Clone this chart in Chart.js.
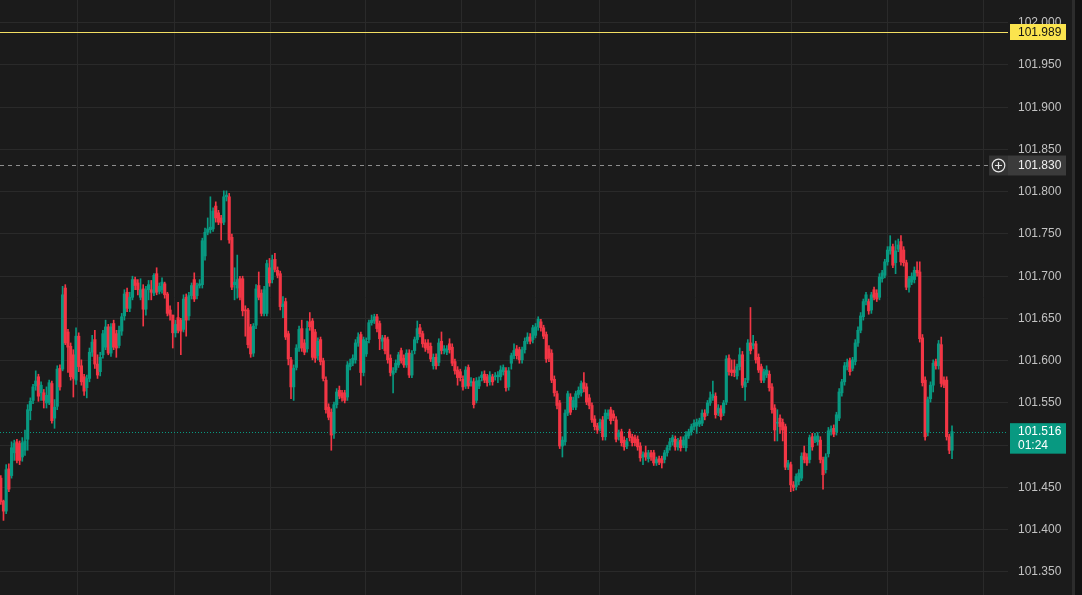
<!DOCTYPE html>
<html>
<head>
<meta charset="utf-8">
<title>5m candles</title>
<script src="https://cdn.jsdelivr.net/npm/chart.js@4.4.1/dist/chart.umd.min.js"></script>
<style>
  html, body { margin: 0; padding: 0; background: #1b1b1b; overflow: hidden; }
  #wrap { width: 1082px; height: 595px; }
</style>
</head>
<body>
<div id="wrap"><canvas id="chart" width="1082" height="595"></canvas></div>
<script>
// OHLC, one value per 5 minute candle
var opens = [
  101.461,101.434,101.422,101.472,101.464,101.491,101.504,101.502,101.486,101.494,
  101.507,101.541,101.553,101.570,101.581,101.562,101.562,101.550,101.550,101.573,
  101.532,101.546,101.591,101.590,101.686,101.634,101.617,101.607,101.577,101.629,
  101.594,101.581,101.568,101.579,101.610,101.625,101.596,101.587,101.607,101.616,
  101.640,101.609,101.644,101.632,101.618,101.635,101.653,101.681,101.662,101.675,
  101.696,101.692,101.675,101.685,101.661,101.684,101.684,101.680,101.703,101.682,
  101.684,101.691,101.679,101.660,101.654,101.633,101.651,101.648,101.637,101.675,
  101.653,101.677,101.696,101.677,101.689,101.690,101.724,101.752,101.755,101.756,
  101.783,101.775,101.769,101.764,101.794,101.794,101.746,101.690,101.686,101.697,
  101.697,101.660,101.660,101.640,101.609,101.642,101.689,101.680,101.656,101.656,
  101.710,101.696,101.720,101.707,101.703,101.664,101.670,101.632,101.601,101.569,
  101.592,101.615,101.638,101.621,101.614,101.646,101.647,101.634,101.606,101.625,
  101.600,101.577,101.545,101.539,101.514,101.548,101.565,101.562,101.562,101.557,
  101.593,101.597,101.601,101.621,101.631,101.586,101.608,101.625,101.645,101.647,
  101.652,101.644,101.623,101.627,101.625,101.603,101.584,101.589,101.595,101.612,
  101.603,101.595,101.609,101.583,101.612,101.625,101.639,101.632,101.621,101.621,
  101.617,101.594,101.604,101.598,101.623,101.612,101.610,101.620,101.616,101.599,
  101.589,101.587,101.578,101.570,101.592,101.574,101.575,101.553,101.570,101.580,
  101.584,101.581,101.575,101.581,101.581,101.581,101.581,101.587,101.588,101.569,
  101.597,101.606,101.614,101.613,101.601,101.613,101.623,101.628,101.625,101.630,
  101.640,101.646,101.639,101.631,101.614,101.609,101.578,101.561,101.550,101.499,
  101.504,101.538,101.557,101.545,101.545,101.560,101.562,101.574,101.569,101.556,
  101.547,101.531,101.523,101.520,101.530,101.510,101.535,101.542,101.537,101.530,
  101.510,101.516,101.506,101.499,101.516,101.510,101.509,101.507,101.499,101.486,
  101.491,101.484,101.491,101.491,101.479,101.484,101.484,101.483,101.491,101.498,
  101.504,101.507,101.498,101.506,101.500,101.497,101.511,101.516,101.522,101.523,
  101.525,101.526,101.538,101.538,101.550,101.556,101.558,101.538,101.543,101.538,
  101.551,101.603,101.589,101.589,101.582,101.593,101.607,101.569,101.577,101.621,
  101.618,101.620,101.604,101.593,101.577,101.583,101.584,101.569,101.544,101.526,
  101.532,101.527,101.522,101.474,101.477,101.453,101.451,101.457,101.461,101.491,
  101.486,101.483,101.510,101.506,101.504,101.506,101.483,101.471,101.490,101.516,
  101.520,101.516,101.532,101.562,101.575,101.593,101.600,101.591,101.599,101.621,
  101.636,101.652,101.670,101.670,101.660,101.684,101.680,101.675,101.697,101.701,
  101.717,101.730,101.735,101.716,101.732,101.741,101.731,101.716,101.687,101.693,
  101.696,101.707,101.705,101.627,101.577,101.515,101.555,101.571,101.599,101.594,
  101.619,101.577,101.577,101.510,101.494
];
var highs = [
  101.464,101.435,101.477,101.478,101.504,101.506,101.507,101.505,101.509,101.518,
  101.548,101.556,101.572,101.588,101.584,101.575,101.566,101.569,101.577,101.576,
  101.554,101.594,101.595,101.688,101.690,101.637,101.621,101.613,101.639,101.633,
  101.601,101.584,101.583,101.615,101.630,101.636,101.607,101.610,101.636,101.648,
  101.643,101.644,101.648,101.636,101.641,101.656,101.684,101.686,101.681,101.700,
  101.699,101.696,101.697,101.690,101.688,101.695,101.695,101.703,101.710,101.692,
  101.698,101.693,101.681,101.665,101.654,101.648,101.669,101.650,101.678,101.679,
  101.681,101.692,101.704,101.692,101.696,101.745,101.757,101.769,101.794,101.781,
  101.788,101.778,101.772,101.801,101.801,101.798,101.750,101.710,101.725,101.700,
  101.700,101.665,101.662,101.643,101.644,101.690,101.705,101.684,101.688,101.719,
  101.721,101.725,101.727,101.711,101.706,101.676,101.674,101.635,101.604,101.595,
  101.619,101.641,101.648,101.625,101.647,101.657,101.650,101.637,101.627,101.628,
  101.603,101.581,101.549,101.543,101.551,101.567,101.570,101.565,101.565,101.599,
  101.602,101.607,101.625,101.633,101.634,101.628,101.627,101.648,101.654,101.655,
  101.655,101.647,101.630,101.630,101.628,101.607,101.592,101.601,101.610,101.615,
  101.607,101.613,101.613,101.612,101.628,101.647,101.643,101.635,101.625,101.625,
  101.621,101.608,101.608,101.626,101.634,101.618,101.618,101.626,101.620,101.602,
  101.593,101.590,101.582,101.593,101.595,101.580,101.579,101.580,101.581,101.587,
  101.588,101.584,101.587,101.584,101.586,101.587,101.594,101.595,101.592,101.592,
  101.609,101.620,101.618,101.616,101.616,101.627,101.633,101.632,101.642,101.644,
  101.652,101.649,101.642,101.634,101.618,101.613,101.582,101.564,101.553,101.510,
  101.542,101.564,101.561,101.557,101.564,101.569,101.576,101.586,101.573,101.560,
  101.550,101.535,101.526,101.531,101.534,101.542,101.542,101.545,101.541,101.534,
  101.518,101.519,101.510,101.508,101.519,101.513,101.512,101.511,101.503,101.492,
  101.499,101.494,101.494,101.494,101.486,101.487,101.487,101.494,101.500,101.508,
  101.512,101.511,101.508,101.510,101.510,101.516,101.519,101.525,101.530,101.531,
  101.532,101.542,101.542,101.553,101.563,101.576,101.562,101.548,101.547,101.553,
  101.606,101.607,101.601,101.601,101.596,101.615,101.611,101.579,101.625,101.663,
  101.630,101.623,101.608,101.596,101.590,101.594,101.588,101.573,101.548,101.542,
  101.536,101.531,101.525,101.482,101.480,101.457,101.466,101.471,101.491,101.499,
  101.490,101.512,101.514,101.514,101.515,101.510,101.486,101.490,101.521,101.523,
  101.524,101.539,101.567,101.578,101.598,101.602,101.603,101.604,101.625,101.640,
  101.657,101.673,101.681,101.673,101.681,101.687,101.684,101.703,101.707,101.720,
  101.735,101.748,101.738,101.742,101.744,101.748,101.735,101.719,101.700,101.704,
  101.711,101.717,101.717,101.631,101.581,101.557,101.575,101.601,101.602,101.624,
  101.628,101.581,101.581,101.513,101.523
];
var lows = [
  101.430,101.411,101.419,101.445,101.461,101.482,101.479,101.477,101.481,101.488,
  101.494,101.530,101.549,101.565,101.552,101.553,101.544,101.544,101.548,101.526,
  101.520,101.542,101.565,101.588,101.619,101.586,101.577,101.557,101.572,101.587,
  101.571,101.559,101.556,101.575,101.605,101.591,101.579,101.582,101.603,101.613,
  101.607,101.605,101.613,101.604,101.615,101.630,101.648,101.658,101.658,101.672,
  101.684,101.678,101.672,101.641,101.654,101.672,101.672,101.677,101.678,101.679,
  101.680,101.674,101.653,101.648,101.615,101.628,101.633,101.607,101.634,101.629,
  101.648,101.673,101.670,101.673,101.686,101.686,101.719,101.749,101.751,101.753,
  101.764,101.761,101.743,101.761,101.789,101.739,101.684,101.672,101.674,101.672,
  101.653,101.629,101.615,101.604,101.605,101.638,101.672,101.653,101.653,101.653,
  101.688,101.692,101.705,101.698,101.660,101.651,101.625,101.595,101.555,101.553,
  101.589,101.611,101.611,101.607,101.610,101.636,101.601,101.598,101.601,101.595,
  101.576,101.538,101.530,101.494,101.508,101.544,101.555,101.552,101.550,101.553,
  101.589,101.594,101.597,101.617,101.571,101.582,101.605,101.621,101.642,101.644,
  101.634,101.613,101.614,101.608,101.597,101.582,101.562,101.586,101.592,101.597,
  101.592,101.592,101.580,101.580,101.608,101.621,101.628,101.616,101.611,101.609,
  101.599,101.590,101.590,101.594,101.608,101.608,101.607,101.609,101.594,101.584,
  101.571,101.576,101.565,101.567,101.567,101.570,101.544,101.550,101.567,101.576,
  101.574,101.570,101.571,101.571,101.577,101.574,101.577,101.583,101.564,101.565,
  101.590,101.602,101.602,101.597,101.597,101.609,101.620,101.620,101.621,101.627,
  101.636,101.635,101.626,101.598,101.599,101.574,101.558,101.543,101.496,101.486,
  101.500,101.535,101.536,101.542,101.542,101.556,101.558,101.563,101.548,101.543,
  101.527,101.518,101.514,101.517,101.506,101.506,101.531,101.525,101.529,101.504,
  101.506,101.499,101.494,101.496,101.505,101.499,101.499,101.494,101.481,101.477,
  101.482,101.480,101.482,101.476,101.476,101.477,101.473,101.479,101.487,101.494,
  101.500,101.494,101.494,101.493,101.497,101.493,101.508,101.512,101.518,101.514,
  101.522,101.523,101.530,101.535,101.547,101.553,101.532,101.535,101.530,101.535,
  101.548,101.583,101.582,101.581,101.578,101.589,101.568,101.553,101.574,101.608,
  101.614,101.597,101.586,101.574,101.574,101.580,101.564,101.538,101.505,101.505,
  101.514,101.505,101.471,101.471,101.445,101.446,101.447,101.453,101.458,101.479,
  101.476,101.479,101.494,101.503,101.500,101.479,101.448,101.467,101.486,101.512,
  101.510,101.512,101.529,101.558,101.571,101.589,101.583,101.588,101.595,101.617,
  101.633,101.648,101.666,101.655,101.656,101.672,101.670,101.672,101.693,101.698,
  101.713,101.726,101.710,101.703,101.729,101.713,101.712,101.684,101.681,101.690,
  101.692,101.700,101.622,101.570,101.506,101.511,101.551,101.563,101.590,101.590,
  101.569,101.568,101.506,101.490,101.484
];
var closes = [
  101.433,101.422,101.471,101.448,101.497,101.502,101.482,101.482,101.503,101.505,
  101.542,101.552,101.569,101.576,101.558,101.571,101.553,101.559,101.574,101.529,
  101.545,101.590,101.569,101.678,101.621,101.616,101.581,101.579,101.629,101.593,
  101.575,101.564,101.579,101.610,101.622,101.596,101.583,101.604,101.632,101.640,
  101.609,101.640,101.616,101.615,101.636,101.652,101.679,101.662,101.675,101.696,
  101.689,101.684,101.684,101.661,101.684,101.690,101.681,101.701,101.681,101.688,
  101.693,101.678,101.656,101.654,101.633,101.643,101.636,101.635,101.673,101.648,
  101.677,101.689,101.673,101.689,101.691,101.742,101.752,101.756,101.758,101.777,
  101.769,101.764,101.763,101.794,101.796,101.743,101.687,101.693,101.696,101.675,
  101.659,101.659,101.619,101.608,101.641,101.685,101.675,101.656,101.684,101.715,
  101.692,101.719,101.708,101.701,101.664,101.667,101.628,101.602,101.569,101.591,
  101.615,101.637,101.615,101.610,101.638,101.640,101.604,101.603,101.623,101.599,
  101.579,101.542,101.533,101.512,101.548,101.563,101.558,101.556,101.553,101.595,
  101.597,101.603,101.621,101.628,101.586,101.625,101.623,101.645,101.648,101.652,
  101.638,101.626,101.627,101.612,101.601,101.586,101.588,101.597,101.607,101.600,
  101.595,101.609,101.583,101.608,101.625,101.638,101.632,101.620,101.615,101.613,
  101.602,101.604,101.594,101.621,101.612,101.614,101.614,101.613,101.597,101.588,
  101.580,101.580,101.569,101.589,101.570,101.576,101.548,101.576,101.577,101.583,
  101.577,101.574,101.583,101.575,101.582,101.583,101.589,101.592,101.568,101.588,
  101.606,101.612,101.606,101.601,101.613,101.623,101.628,101.623,101.639,101.640,
  101.649,101.639,101.629,101.602,101.603,101.577,101.562,101.547,101.499,101.506,
  101.538,101.561,101.539,101.553,101.561,101.565,101.573,101.567,101.551,101.547,
  101.530,101.522,101.518,101.527,101.510,101.538,101.538,101.529,101.532,101.507,
  101.515,101.503,101.498,101.504,101.509,101.503,101.503,101.498,101.485,101.489,
  101.486,101.491,101.486,101.479,101.483,101.480,101.479,101.491,101.497,101.504,
  101.509,101.498,101.504,101.497,101.506,101.512,101.516,101.522,101.526,101.527,
  101.529,101.538,101.534,101.550,101.556,101.560,101.536,101.544,101.534,101.550,
  101.602,101.587,101.586,101.586,101.593,101.607,101.571,101.575,101.621,101.612,
  101.620,101.601,101.589,101.577,101.587,101.589,101.568,101.542,101.518,101.527,
  101.522,101.518,101.474,101.479,101.453,101.450,101.463,101.467,101.487,101.483,
  101.479,101.509,101.498,101.510,101.511,101.483,101.465,101.486,101.517,101.519,
  101.513,101.536,101.563,101.575,101.594,101.598,101.587,101.601,101.621,101.636,
  101.653,101.670,101.678,101.659,101.678,101.675,101.673,101.699,101.704,101.717,
  101.731,101.735,101.713,101.730,101.737,101.717,101.716,101.687,101.697,101.700,
  101.707,101.704,101.626,101.574,101.510,101.554,101.571,101.597,101.594,101.620,
  101.573,101.571,101.510,101.494,101.516
];

var priceTicks = [101.35, 101.40, 101.45, 101.50, 101.55, 101.60, 101.65,
                  101.70, 101.75, 101.80, 101.85, 101.90, 101.95, 102.00];
// vertical grid lines, in candle index units
var timeGrid = [28.73, 64.46, 100.19, 135.91, 171.64, 199.18, 222.99, 258.72, 294.45, 330.18, 365.90];

var alertPrice = 101.989;
var crossPrice = 101.830;
var lastPrice = 101.516;
var countdown = '01:24';

var UP = '#089981';
var DOWN = '#f23645';
var GRID = '#2a2a2a';
var TEXT = '#c2c2c2';
var FONT = '12px "Liberation Sans", Arial, sans-serif';

var colors = closes.map(function (c, i) { return c >= opens[i] ? UP : DOWN; });
var bodies = opens.map(function (o, i) { return { x: i, y: [o, closes[i]] }; });
var wicks = highs.map(function (h, i) { return { x: i, y: [lows[i], h] }; });

function hline(c, x0, x1, y) {
    c.beginPath();
    c.moveTo(x0, y);
    c.lineTo(x1, y);
    c.stroke();
}

var priceLines = {
    id: 'priceLines',
    beforeDatasetsDraw: function (chart) {
        var c = chart.ctx, a = chart.chartArea, ys = chart.scales.y;
        c.save();
        c.lineWidth = 1;

        // last price, dotted
        c.strokeStyle = UP;
        c.setLineDash([1, 2]);
        hline(c, a.left, a.right, Math.round(ys.getPixelForValue(lastPrice)) + 0.5);

        // crosshair, dashed
        c.strokeStyle = '#8e8e8e';
        c.setLineDash([4, 4]);
        hline(c, a.left, 988, Math.round(ys.getPixelForValue(crossPrice)) - 0.5);
        c.restore();
    },
    afterDraw: function (chart) {
        var c = chart.ctx, a = chart.chartArea, ys = chart.scales.y;
        var W = chart.width, H = chart.height;
        c.save();

        // right border strips
        c.fillStyle = '#2c2c2c';
        c.fillRect(W - 10, 0, 3, H);
        c.fillStyle = '#121212';
        c.fillRect(W - 7, 0, 7, H);

        c.font = FONT;
        c.textBaseline = 'middle';
        c.textAlign = 'left';

        // alert line + yellow label
        var ya = Math.round(ys.getPixelForValue(alertPrice)) + 0.5;
        c.strokeStyle = '#f3df63';
        c.lineWidth = 1;
        hline(c, a.left, a.right, ya);
        c.fillStyle = '#fbe44e';
        c.fillRect(1010, ya - 8.5, 56, 16);
        c.fillStyle = '#131313';
        c.fillText(alertPrice.toFixed(3), 1018, ya);

        // crosshair label with plus button
        var yc = Math.round(ys.getPixelForValue(crossPrice)) - 0.5;
        c.fillStyle = '#333333';
        c.fillRect(989, yc - 10, 19, 20);
        c.fillStyle = '#3b3b3b';
        c.fillRect(1008, yc - 10, 58, 20);
        c.strokeStyle = '#e6e6e6';
        c.lineWidth = 1.2;
        c.beginPath();
        c.arc(998.5, yc, 6.3, 0, Math.PI * 2);
        c.stroke();
        c.beginPath();
        c.moveTo(995, yc); c.lineTo(1002, yc);
        c.moveTo(998.5, yc - 3.5); c.lineTo(998.5, yc + 3.5);
        c.stroke();
        c.fillStyle = '#f0f0f0';
        c.fillText(crossPrice.toFixed(3), 1018, yc);

        // last price label + countdown
        var yl = ys.getPixelForValue(lastPrice);
        c.fillStyle = UP;
        c.fillRect(1010, yl - 8.5, 56, 30.5);
        c.fillStyle = '#ffffff';
        c.fillText(lastPrice.toFixed(3), 1018, yl);
        c.fillText(countdown, 1018, yl + 14);

        c.restore();
    }
};

var ctx = document.getElementById('chart').getContext('2d');
new Chart(ctx, {
    type: 'bar',
    data: {
        datasets: [
            {
                label: 'body',
                data: bodies,
                backgroundColor: colors,
                barThickness: 2.5,
                minBarLength: 1,
                grouped: false
            },
            {
                label: 'wick',
                data: wicks,
                backgroundColor: colors,
                barThickness: 1,
                grouped: false
            }
        ]
    },
    options: {
        responsive: false,
        animation: false,
        devicePixelRatio: 1,
        layout: { padding: 0 },
        plugins: {
            legend: { display: false },
            tooltip: { enabled: false }
        },
        scales: {
            x: {
                type: 'linear',
                min: -0.298,
                max: 374.84,
                offset: false,
                grid: { color: GRID, drawTicks: false, offset: false },
                border: { display: false },
                ticks: { display: false },
                afterBuildTicks: function (s) {
                    s.ticks = timeGrid.map(function (v) { return { value: v }; });
                },
                afterFit: function (s) { s.height = 0; }
            },
            y: {
                position: 'right',
                min: 101.3227,
                max: 102.0269,
                grid: { color: GRID, drawTicks: false },
                border: { display: false },
                ticks: {
                    color: TEXT,
                    font: { family: '"Liberation Sans", Arial, sans-serif', size: 12 },
                    padding: 10,
                    callback: function (v) { return Number(v).toFixed(3); }
                },
                afterBuildTicks: function (s) {
                    s.ticks = priceTicks.map(function (v) { return { value: v }; });
                },
                afterFit: function (s) {
                    s.width = 74;
                    s.paddingTop = 0;
                    s.paddingBottom = 0;
                }
            }
        }
    },
    plugins: [priceLines]
});
</script>
</body>
</html>
